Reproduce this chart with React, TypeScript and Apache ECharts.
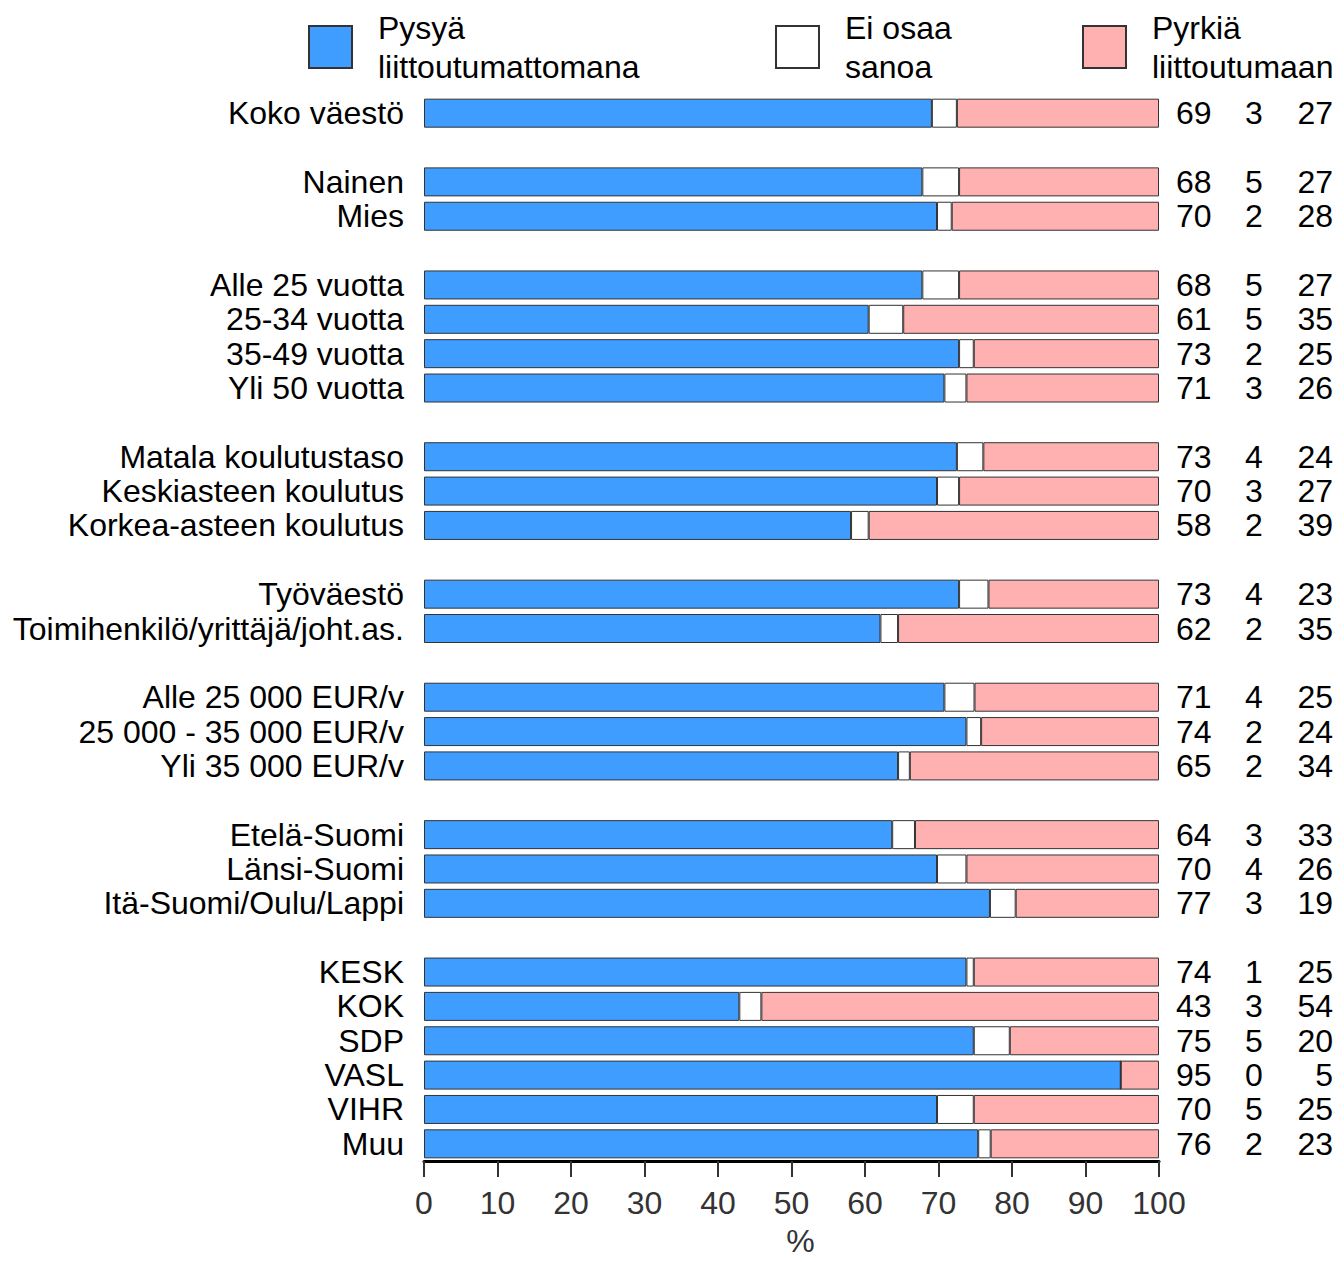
import React, { useEffect, useRef } from "react";
import * as echarts from "echarts";

const FONT = "'Liberation Sans', Arial, Helvetica, sans-serif";

const categories = [
  "Koko väestö",
  "Nainen", "Mies",
  "Alle 25 vuotta", "25-34 vuotta", "35-49 vuotta", "Yli 50 vuotta",
  "Matala koulutustaso", "Keskiasteen koulutus", "Korkea-asteen koulutus",
  "Työväestö", "Toimihenkilö/yrittäjä/joht.as.",
  "Alle 25 000 EUR/v", "25 000 - 35 000 EUR/v", "Yli 35 000 EUR/v",
  "Etelä-Suomi", "Länsi-Suomi", "Itä-Suomi/Oulu/Lappi",
  "KESK", "KOK", "SDP", "VASL", "VIHR", "Muu",
];
const groupSizes = [1, 2, 4, 3, 2, 3, 3, 6];

const seriesNames = ["Pysyä liittoutumattomana", "Ei osaa sanoa", "Pyrkiä liittoutumaan"];
const legendTexts = ["Pysyä\nliittoutumattomana", "Ei osaa\nsanoa", "Pyrkiä\nliittoutumaan"];
const seriesColors = ["#3f9dff", "#ffffff", "#ffb1b1"];

// segment widths (percent)
const stayValues = [69.1, 67.8, 69.8, 67.8, 60.5, 72.8, 70.8, 72.5, 69.8, 58.1, 72.8, 62.1, 70.8, 73.8, 64.5, 63.7, 69.8, 77.0, 73.8, 42.9, 74.8, 94.8, 69.8, 75.4];
const dontKnowValues = [3.4, 5.0, 2.0, 5.0, 4.7, 2.0, 3.0, 3.6, 3.0, 2.4, 4.0, 2.4, 4.1, 2.0, 1.6, 3.1, 4.0, 3.5, 1.0, 3.0, 4.9, 0, 5.0, 1.7];
const joinValues = [27.5, 27.2, 28.2, 27.2, 34.8, 25.2, 26.2, 23.9, 27.2, 39.5, 23.2, 35.5, 25.1, 24.2, 33.9, 33.2, 26.2, 19.5, 25.2, 54.1, 20.3, 5.2, 25.2, 22.9];

// printed numbers on the right
const stayLabels = [69, 68, 70, 68, 61, 73, 71, 73, 70, 58, 73, 62, 71, 74, 65, 64, 70, 77, 74, 43, 75, 95, 70, 76];
const dontKnowLabels = [3, 5, 2, 5, 5, 2, 3, 4, 3, 2, 4, 2, 4, 2, 2, 3, 4, 3, 1, 3, 5, 0, 5, 2];
const joinLabels = [27, 27, 28, 27, 35, 25, 26, 24, 27, 39, 23, 35, 25, 24, 34, 33, 26, 19, 25, 54, 20, 5, 25, 23];

const xTicks = { min: 0, max: 100, interval: 10 };

// build row layout with blank separator rows between groups
function buildRows(): (number | null)[] {
  const rows: (number | null)[] = [];
  let idx = 0;
  groupSizes.forEach((size, g) => {
    if (g > 0) rows.push(null);
    for (let k = 0; k < size; k++) rows.push(idx++);
  });
  return rows;
}

export default function App() {
  const ref = useRef<HTMLDivElement>(null);

  useEffect(() => {
    if (!ref.current) return;
    const chart = echarts.init(ref.current, undefined, { renderer: "svg" });
    const rows = buildRows();
    const rowNames = rows.map((r) => (r === null ? "" : categories[r]));
    const pad = (arr: number[]) => rows.map((r) => (r === null ? null : arr[r]));
    const values = [stayValues, dontKnowValues, joinValues];

    const legendCommon = {
      orient: "horizontal",
      icon: "rect",
      itemWidth: 43,
      itemHeight: 42,
      selectedMode: false,
      padding: 0,
      top: 8,
      formatter: (n: string) => legendTexts[seriesNames.indexOf(n)],
      textStyle: {
        fontFamily: FONT,
        fontSize: 32,
        lineHeight: 39,
        color: "#000",
        padding: [0, 0, 0, 21],
      },
    };

    chart.setOption({
      animation: false,
      textStyle: { fontFamily: FONT },
      grid: { left: 424, width: 735, top: 96, height: 1065, outerBoundsMode: "none", containLabel: false },
      legend: [
        { ...legendCommon, left: 308, data: [seriesNames[0]] },
        { ...legendCommon, left: 775, data: [seriesNames[1]] },
        { ...legendCommon, left: 1082, data: [seriesNames[2]] },
      ],
      xAxis: {
        type: "value",
        min: xTicks.min,
        max: xTicks.max,
        interval: xTicks.interval,
        axisLine: { show: true, lineStyle: { color: "#000", width: 3 } },
        axisTick: { show: true, length: 16, lineStyle: { color: "#333", width: 2 } },
        splitLine: { show: false },
        axisLabel: { fontFamily: FONT, fontSize: 32, lineHeight: 22, color: "#333", margin: 31 },
        name: "%",
        nameLocation: "middle",
        nameGap: 69,
        nameMoveOverlap: false,
        nameTextStyle: {
          fontFamily: FONT,
          fontSize: 32,
          lineHeight: 22,
          color: "#333",
          padding: [0, 0, 0, 18],
        },
      },
      yAxis: [
        {
          type: "category",
          inverse: true,
          data: rowNames,
          axisLine: { show: false },
          axisTick: { show: false },
          axisLabel: { interval: 0, fontFamily: FONT, fontSize: 32, color: "#000", margin: 20 },
        },
        {
          type: "category",
          inverse: true,
          position: "right",
          data: rowNames,
          axisLine: { show: false },
          axisTick: { show: false },
          axisLabel: {
            interval: 0,
            margin: 17,
            formatter: (_v: string, i: number) => {
              const r = rows[i];
              if (r === null || r === undefined) return "";
              return `{a|${stayLabels[r]}}{b|${dontKnowLabels[r]}}{c|${joinLabels[r]}}`;
            },
            rich: {
              a: { width: 36, align: "left", fontSize: 32, fontFamily: FONT, color: "#000" },
              b: { width: 84, align: "center", fontSize: 32, fontFamily: FONT, color: "#000" },
              c: { width: 37, align: "right", fontSize: 32, fontFamily: FONT, color: "#000" },
            },
          },
        },
      ],
      series: seriesNames.map((name, s) => ({
        name,
        type: "bar",
        stack: "total",
        barWidth: 29,
        data: pad(values[s]),
        itemStyle: { color: seriesColors[s], borderColor: "#333", borderWidth: 1 },
        emphasis: { disabled: true },
      })),
    });

    return () => chart.dispose();
  }, []);

  return (
    <div
      ref={ref}
      style={{ position: "absolute", left: 0, top: 0, width: 1344, height: 1262 }}
    />
  );
}
